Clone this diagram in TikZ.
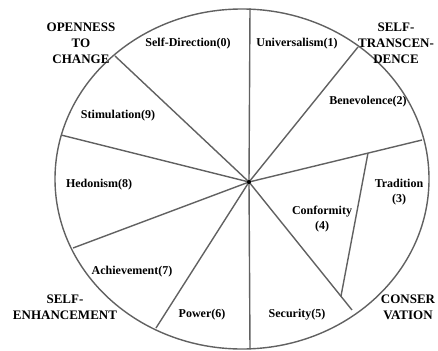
\documentclass[tikz,border=0pt]{standalone}
\usepackage{fontspec}
\setmainfont{Liberation Serif}
\begin{document}
\begin{tikzpicture}[x=1pt,y=-1pt,
  seg/.style={draw=black!62,line width=1.4pt},
  item/.style={font=\fontsize{12}{15}\selectfont\bfseries,align=center,inner sep=0pt},
  group/.style={font=\fontsize{13}{16}\selectfont\bfseries,align=center,inner sep=0pt}]
\useasboundingbox (0,0) rectangle (438,350);
% circle
\draw[seg] (242,179) ellipse [x radius=187, y radius=170];
\coordinate (hub) at (249,182);
\coordinate (top) at (250,8.5);
\coordinate (bot) at (250,349);
\coordinate (p1) at (115,56);
\coordinate (p2) at (61,135);
\coordinate (p3) at (73,248);
\coordinate (p4) at (156,328);
\coordinate (p5) at (358,47);
\coordinate (p6) at (422,140);
\coordinate (p7) at (352,310);
\coordinate (t1) at (368,153);
\coordinate (t2) at (341,296);
\draw[seg] (hub) -- (top);
\draw[seg] (hub) -- (bot);
\draw[seg] (hub) -- (p1);
\draw[seg] (hub) -- (p2);
\draw[seg] (hub) -- (p3);
\draw[seg] (hub) -- (p4);
\draw[seg] (hub) -- (p5);
\draw[seg] (hub) -- (p6);
\draw[seg] (hub) -- (p7);
\draw[seg] (t1) -- (t2);
\fill[black] (hub) circle (2pt);
% items
\node[item] (n0) at (188,44) {Self-Direction(0)};
\node[item] (n1) at (297,44) {Universalism(1)};
\node[item] (n2) at (368,102) {Benevolence(2)};
\node[item] (n3) at (399,192) {Tradition\\(3)};
\node[item] (n4) at (322,219) {Conformity\\(4)};
\node[item] (n5) at (297,315) {Security(5)};
\node[item] (n6) at (202,315) {Power(6)};
\node[item] (n7) at (132,272) {Achievement(7)};
\node[item] (n8) at (99,185) {Hedonism(8)};
\node[item] (n9) at (118,116) {Stimulation(9)};
% groups
\node[group] (g1) at (81,43) {OPENNESS\\TO\\CHANGE};
\node[group] (g2) at (396,43) {SELF-\\TRANSCEN-\\DENCE};
\node[group] (g3) at (65,307) {SELF-\\ENHANCEMENT};
\node[group] (g4) at (408,307) {CONSER\\VATION};
\end{tikzpicture}
\end{document}
